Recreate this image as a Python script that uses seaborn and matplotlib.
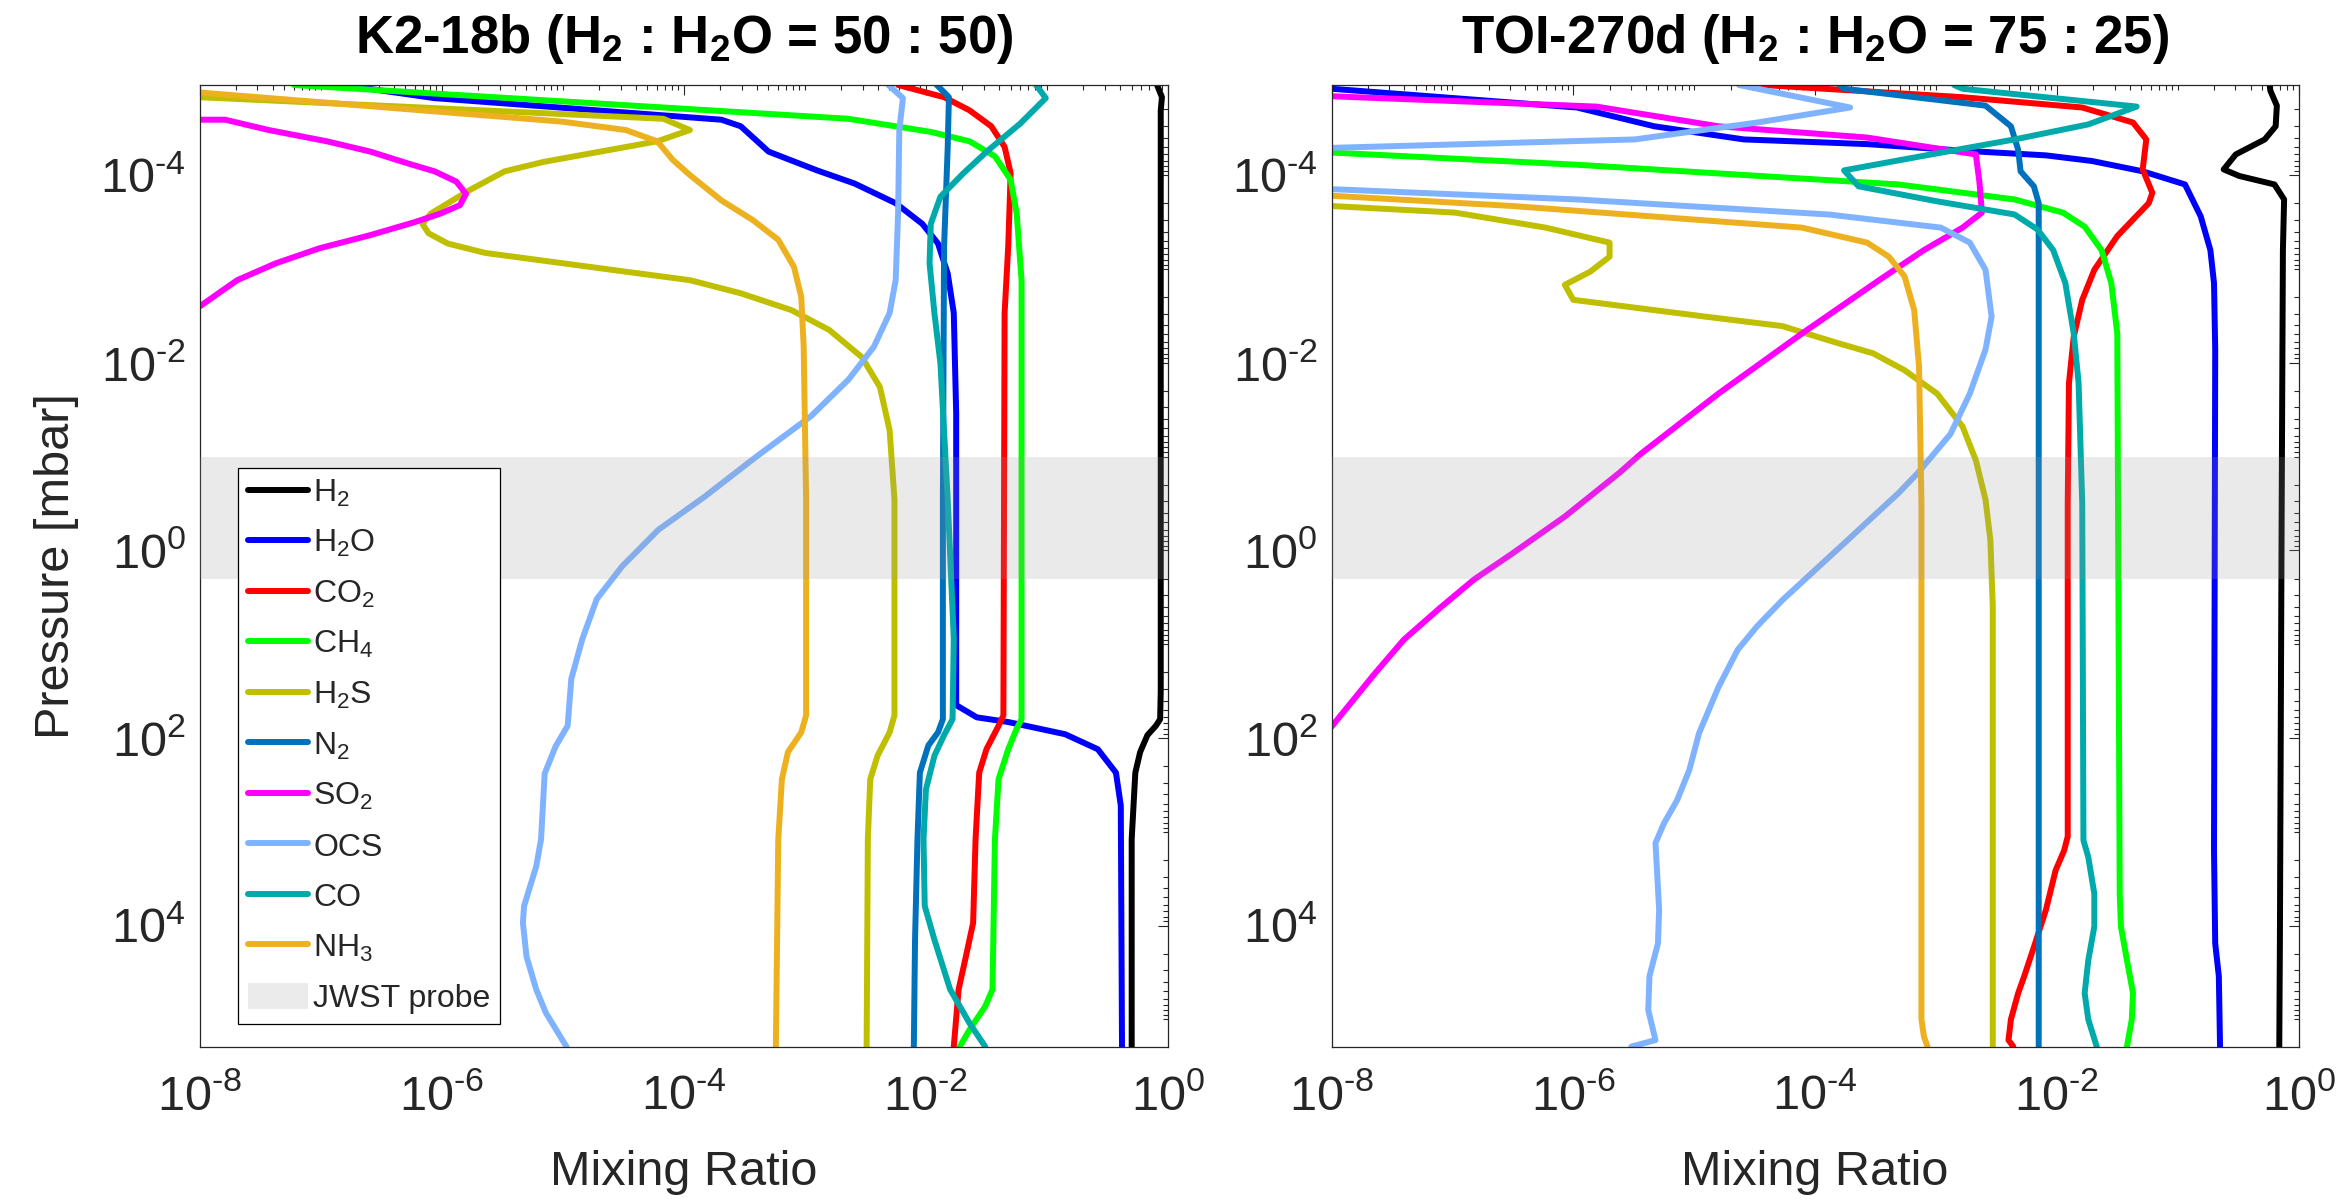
import numpy as np
import pandas as pd
import matplotlib
matplotlib.use("Agg")
import matplotlib.pyplot as plt
import seaborn as sns
from matplotlib.ticker import FixedLocator, LogLocator, FuncFormatter, NullFormatter
from matplotlib.lines import Line2D
from matplotlib.patches import Patch

# ---------------- data (log10 values) ----------------
P_TOP, P_BOT = -4.96, 5.29

# K2-18b (H2 : H2O = 50 : 50)
k2_h2_lp = [-4.96, -4.83, -4.69, -4.4, -3.0, 0.0, 1.5, 1.80, 1.87, 1.97, 2.15, 2.37, 3.08, 5.29]
k2_h2_lx = [-0.09, -0.05, -0.06, -0.06, -0.06, -0.06, -0.06, -0.065, -0.10, -0.17, -0.23, -0.27, -0.30, -0.30]
k2_h2o_lp = [-4.96, -4.82, -4.59, -4.52, -4.25, -4.05, -3.91, -3.70, -3.48, -3.27, -2.95, -2.53, -1.46, 1.65, 1.78, 1.83, 1.96, 2.12, 2.37, 2.72, 5.29]
k2_h2o_lx = [-6.82, -6.06, -3.69, -3.53, -3.30, -2.90, -2.59, -2.25, -2.03, -1.90, -1.82, -1.77, -1.75, -1.75, -1.58, -1.32, -0.85, -0.58, -0.43, -0.39, -0.38]
k2_co2_lp = [-4.96, -4.83, -4.69, -4.52, -4.30, -4.02, -3.24, -2.53, 1.76, 1.87, 2.12, 2.37, 3.08, 3.97, 4.33, 4.68, 5.29]
k2_co2_lx = [-2.23, -1.85, -1.64, -1.46, -1.35, -1.30, -1.32, -1.35, -1.36, -1.40, -1.50, -1.56, -1.59, -1.61, -1.67, -1.73, -1.77]
k2_ch4_lp = [-4.96, -4.60, -4.46, -4.36, -4.20, -3.95, -3.59, -2.88, 1.80, 1.90, 2.12, 2.44, 3.08, 4.68, 4.86, 5.11, 5.29]
k2_ch4_lx = [-7.22, -2.64, -1.96, -1.64, -1.43, -1.30, -1.25, -1.21, -1.21, -1.25, -1.32, -1.40, -1.43, -1.45, -1.51, -1.64, -1.72]
k2_h2s_lp = [-4.92, -4.83, -4.60, -4.48, -4.36, -4.14, -4.04, -3.84, -3.59, -3.48, -3.38, -3.27, -3.17, -3.06, -2.97, -2.88, -2.74, -2.56, -2.35, -2.06, -1.74, -1.28, -0.54, 1.76, 1.94, 2.19, 2.44, 3.08, 5.29]
k2_h2s_lx = [-9.0, -8.0, -4.17, -3.95, -4.22, -5.16, -5.48, -5.77, -6.09, -6.16, -6.11, -5.95, -5.64, -5.00, -4.48, -3.95, -3.53, -3.11, -2.80, -2.53, -2.38, -2.30, -2.26, -2.26, -2.30, -2.40, -2.46, -2.48, -2.49]
k2_n2_lp = [-4.96, -4.83, -4.30, -3.24, -0.54, 1.80, 1.94, 2.08, 2.37, 3.08, 4.15, 5.29]
k2_n2_lx = [-1.91, -1.81, -1.82, -1.85, -1.86, -1.86, -1.90, -1.98, -2.05, -2.07, -2.09, -2.10]
k2_so2_lp = [-4.62, -4.59, -4.59, -4.48, -4.36, -4.25, -4.12, -4.04, -3.93, -3.80, -3.68, -3.59, -3.50, -3.36, -3.22, -3.06, -2.88, -2.60, -2.30]
k2_so2_lx = [-9.0, -8.0, -7.79, -7.43, -6.95, -6.59, -6.27, -6.06, -5.88, -5.80, -5.85, -6.01, -6.22, -6.59, -7.01, -7.37, -7.69, -8.0, -8.4]
k2_ocs_lp = [-4.96, -4.82, -4.48, -3.59, -2.88, -2.53, -2.17, -1.82, -1.43, -0.99, -0.57, -0.22, 0.17, 0.52, 0.95, 1.37, 1.87, 2.09, 2.38, 3.08, 3.37, 3.79, 3.97, 4.33, 4.68, 4.93, 5.29]
k2_ocs_lx = [-2.31, -2.19, -2.22, -2.23, -2.25, -2.30, -2.43, -2.64, -2.95, -3.41, -3.83, -4.21, -4.51, -4.72, -4.84, -4.93, -4.96, -5.06, -5.15, -5.18, -5.22, -5.32, -5.33, -5.30, -5.22, -5.14, -4.97]
k2_co_lp = [-4.96, -4.82, -4.55, -4.27, -4.02, -3.77, -3.48, -3.06, -2.53, -1.99, -0.54, 0.94, 1.80, 1.97, 2.19, 2.55, 3.08, 3.79, 4.15, 4.68, 5.04, 5.29]
k2_co_lx = [-1.09, -1.01, -1.22, -1.48, -1.69, -1.88, -1.96, -1.97, -1.93, -1.88, -1.82, -1.77, -1.78, -1.85, -1.93, -2.00, -2.02, -2.01, -1.93, -1.80, -1.64, -1.51]
k2_nh3_lp = [-4.95, -4.88, -4.57, -4.48, -4.36, -4.16, -4.00, -3.73, -3.52, -3.31, -3.02, -2.70, -2.17, -0.54, 1.76, 1.94, 2.15, 2.44, 3.08, 5.29]
k2_nh3_lx = [-9.0, -8.0, -5.01, -4.48, -4.22, -4.09, -3.95, -3.69, -3.43, -3.22, -3.09, -3.03, -3.01, -2.99, -2.99, -3.03, -3.14, -3.19, -3.22, -3.24]

# TOI-270d (H2 : H2O = 75 : 25)
t_h2_lp = [-4.96, -4.90, -4.74, -4.52, -4.38, -4.22, -4.06, -3.99, -3.90, -3.74, -3.20, -0.50, 4.19, 5.29]
t_h2_lx = [-0.24, -0.234, -0.18, -0.19, -0.28, -0.52, -0.62, -0.49, -0.20, -0.12, -0.13, -0.14, -0.155, -0.16]
t_h2o_lp = [-4.96, -4.92, -4.72, -4.52, -4.38, -4.33, -4.26, -4.21, -4.15, -4.04, -3.90, -3.56, -3.20, -2.85, -2.14, 3.20, 4.19, 4.54, 5.29]
t_h2o_lx = [-8.3, -8.0, -5.97, -5.33, -4.59, -3.57, -2.78, -2.09, -1.71, -1.29, -0.94, -0.81, -0.73, -0.70, -0.69, -0.70, -0.69, -0.66, -0.65]
t_co2_lp = [-4.96, -4.83, -4.72, -4.56, -4.38, -4.06, -3.81, -3.70, -3.35, -2.99, -2.67, -2.28, -1.78, -0.50, 3.05, 3.20, 3.41, 3.83, 4.19, 4.54, 4.72, 5.00, 5.22, 5.29]
t_co2_lx = [-4.43, -2.78, -1.79, -1.37, -1.26, -1.29, -1.21, -1.24, -1.50, -1.69, -1.79, -1.86, -1.90, -1.91, -1.91, -1.94, -2.01, -2.09, -2.18, -2.27, -2.32, -2.38, -2.40, -2.36]
t_ch4_lp = [-4.28, -4.24, -4.11, -3.90, -3.74, -3.60, -3.45, -3.20, -2.85, -2.31, 3.66, 4.01, 4.37, 4.72, 5.00, 5.29]
t_ch4_lx = [-9.0, -8.0, -5.97, -3.31, -2.35, -1.95, -1.77, -1.63, -1.55, -1.50, -1.48, -1.47, -1.42, -1.37, -1.38, -1.42]
t_h2s_lp = [-3.72, -3.67, -3.60, -3.44, -3.28, -3.13, -2.97, -2.83, -2.67, -2.49, -2.39, -2.22, -2.10, -1.92, -1.67, -1.32, -0.96, -0.54, -0.11, 0.60, 5.29]
t_h2s_lx = [-9.0, -8.0, -6.98, -6.23, -5.70, -5.70, -5.86, -6.07, -6.00, -4.90, -4.27, -3.84, -3.52, -3.26, -2.99, -2.78, -2.67, -2.59, -2.55, -2.53, -2.53]
t_n2_lp = [-4.96, -4.92, -4.74, -4.52, -4.27, -4.04, -3.88, -3.70, -3.20, 5.29]
t_n2_lx = [-3.80, -3.76, -2.59, -2.38, -2.32, -2.30, -2.19, -2.15, -2.15, -2.15]
t_so2_lp = [-4.96, -4.84, -4.73, -4.52, -4.40, -4.22, -3.92, -3.60, -3.44, -3.20, -2.88, -2.31, -1.67, -1.03, -0.825, -0.36, 0.03, 0.31, 0.60, 0.95, 1.31, 1.88, 2.00]
t_so2_lx = [-8.5, -8.0, -5.81, -4.80, -3.57, -2.67, -2.64, -2.62, -2.78, -3.10, -3.47, -4.11, -4.80, -5.44, -5.62, -6.07, -6.50, -6.82, -7.09, -7.40, -7.64, -8.0, -8.1]
t_ocs_lp = [-4.96, -4.72, -4.56, -4.38, -4.29, -4.25, -3.91, -3.85, -3.74, -3.58, -3.44, -3.28, -2.99, -2.49, -2.14, -1.67, -1.24, -0.825, -0.61, -0.11, 0.21, 0.53, 0.81, 1.06, 1.31, 1.46, 1.95, 2.34, 2.66, 2.91, 3.12, 3.83, 4.19, 4.54, 4.90, 5.22, 5.29]
t_ocs_lx = [-4.63, -3.71, -4.48, -5.49, -8.0, -8.3, -8.3, -8.0, -5.97, -3.89, -2.96, -2.72, -2.59, -2.54, -2.59, -2.72, -2.88, -3.15, -3.31, -3.73, -4.00, -4.27, -4.48, -4.64, -4.74, -4.80, -4.96, -5.04, -5.14, -5.25, -5.32, -5.29, -5.30, -5.37, -5.38, -5.32, -5.52]
t_co_lp = [-4.96, -4.92, -4.73, -4.54, -4.38, -4.22, -4.05, -3.88, -3.72, -3.58, -3.42, -3.20, -2.85, -2.31, -1.78, -0.50, 3.09, 3.27, 3.66, 4.01, 4.37, 4.72, 5.00, 5.29]
t_co_lx = [-2.85, -2.78, -1.34, -1.74, -2.35, -3.04, -3.76, -3.64, -2.99, -2.35, -2.16, -2.03, -1.93, -1.86, -1.82, -1.79, -1.78, -1.74, -1.69, -1.69, -1.74, -1.77, -1.74, -1.67]
t_nh3_lp = [-3.82, -3.78, -3.67, -3.44, -3.28, -3.13, -2.92, -2.56, -1.96, -0.50, 5.00, 5.18, 5.29]
t_nh3_lx = [-9.0, -8.0, -6.5, -4.11, -3.57, -3.39, -3.26, -3.18, -3.14, -3.12, -3.12, -3.10, -3.07]

species = ["H2", "H2O", "CO2", "CH4", "H2S", "N2", "SO2", "OCS", "CO", "NH3"]
labels = ["H$_2$", "H$_2$O", "CO$_2$", "CH$_4$", "H$_2$S", "N$_2$", "SO$_2$", "OCS", "CO", "NH$_3$"]
colors = ["#000000", "#0000FF", "#FF0000", "#00FF00", "#BFBF00", "#0072BD",
          "#FF00FF", "#80B3FF", "#00AAAA", "#EDB120"]

k2_data = [(k2_h2_lp, k2_h2_lx), (k2_h2o_lp, k2_h2o_lx), (k2_co2_lp, k2_co2_lx),
           (k2_ch4_lp, k2_ch4_lx), (k2_h2s_lp, k2_h2s_lx), (k2_n2_lp, k2_n2_lx),
           (k2_so2_lp, k2_so2_lx), (k2_ocs_lp, k2_ocs_lx), (k2_co_lp, k2_co_lx),
           (k2_nh3_lp, k2_nh3_lx)]
toi_data = [(t_h2_lp, t_h2_lx), (t_h2o_lp, t_h2o_lx), (t_co2_lp, t_co2_lx),
            (t_ch4_lp, t_ch4_lx), (t_h2s_lp, t_h2s_lx), (t_n2_lp, t_n2_lx),
            (t_so2_lp, t_so2_lx), (t_ocs_lp, t_ocs_lx), (t_co_lp, t_co_lx),
            (t_nh3_lp, t_nh3_lx)]

titles = [r"K2-18b (H$_\mathbf{2}$ : H$_\mathbf{2}$O = 50 : 50)",
          r"TOI-270d (H$_\mathbf{2}$ : H$_\mathbf{2}$O = 75 : 25)"]
band_lo, band_hi = 0.1, 2.0

# ---------------- style ----------------
sns.set_style("white")
plt.rcParams.update({
    "mathtext.fontset": "custom",
    "mathtext.rm": "Liberation Sans",
    "mathtext.it": "Liberation Sans:italic",
    "mathtext.bf": "Liberation Sans:bold",
    "axes.unicode_minus": False,
    "axes.edgecolor": "#262626",
    "axes.linewidth": 0.9,
})
plt.rcParams["font.family"] = ["Liberation Sans", "DejaVu Sans"]

TXT = "#262626"
LW = 4.3

fig = plt.figure(figsize=(23.36, 12.04), dpi=100)
axes = [fig.add_axes([0.0855, 0.1307, 0.4145, 0.7987]),
        fig.add_axes([0.5700, 0.1307, 0.4140, 0.7987])]


def fmt(v, pos):
    e = int(round(np.log10(v)))
    if e < 0:
        return r"$\mathdefault{10^{\text{-}%d}}$" % (-e)
    return r"$\mathdefault{10^{%d}}$" % e


for ax, data, title in zip(axes, [k2_data, toi_data], titles):
    ax.set_xscale("log")
    ax.set_yscale("log")
    for (lp, lx), c in zip(data, colors):
        df = pd.DataFrame({"x": 10.0 ** np.array(lx), "p": 10.0 ** np.array(lp)})
        sns.lineplot(data=df, x="x", y="p", sort=False, estimator=None,
                     color=c, lw=LW, ax=ax, legend=False)
    ax.axhspan(band_lo, band_hi, color=(0.6, 0.6, 0.6), alpha=0.2, lw=0, zorder=5)
    ax.set_xlim(1e-8, 1.0)
    ax.set_ylim(10 ** P_BOT, 10 ** P_TOP)
    ax.xaxis.set_major_locator(FixedLocator([1e-8, 1e-6, 1e-4, 1e-2, 1.0]))
    ax.yaxis.set_major_locator(FixedLocator([1e-4, 1e-2, 1.0, 1e2, 1e4]))
    ax.xaxis.set_minor_locator(LogLocator(base=10, subs=np.arange(1, 10), numticks=100))
    ax.yaxis.set_minor_locator(LogLocator(base=10, subs=np.arange(1, 10), numticks=100))
    ax.xaxis.set_major_formatter(FuncFormatter(fmt))
    ax.yaxis.set_major_formatter(FuncFormatter(fmt))
    ax.xaxis.set_minor_formatter(NullFormatter())
    ax.yaxis.set_minor_formatter(NullFormatter())
    ax.tick_params(which="both", direction="in", top=True, right=True,
                   colors="#262626", width=0.8)
    ax.tick_params(which="major", length=7)
    ax.tick_params(which="minor", length=3.5)
    ax.tick_params(axis="x", which="major", labelsize=35, pad=20, labelcolor=TXT)
    ax.tick_params(axis="y", which="major", labelsize=35, pad=10, labelcolor=TXT)
    ax.set_xlabel("")
    ax.set_ylabel("")
    for s in ax.spines.values():
        s.set_visible(True)
        s.set_color("#262626")
    ax.text(0.5, -0.1438, "Mixing Ratio", transform=ax.transAxes, ha="center",
            va="baseline", fontsize=35, color=TXT)
    ax.text(0.5, 1.033, title, transform=ax.transAxes, ha="center",
            va="baseline", fontsize=38, fontweight="bold", color="black")

fig.text(57 / 2336, 1 - 566 / 1204, "Pressure [mbar]", rotation=90,
         ha="center", va="center", fontsize=35, color=TXT)

handles = [Line2D([0], [0], color=c, lw=LW) for c in colors]
handles.append(Patch(facecolor="#EBEBEB", edgecolor="none"))
leg = axes[0].legend(handles, labels + ["JWST probe"], loc="lower left",
                     bbox_to_anchor=(0.0396, 0.024), borderaxespad=0,
                     fontsize=23, frameon=True, fancybox=False,
                     edgecolor="black", framealpha=1, handlelength=1.9,
                     handleheight=0.9, handletextpad=0.15, labelspacing=0.6,
                     borderpad=0.3)
leg.get_frame().set_linewidth(0.9)
leg.set_zorder(10)

fig.savefig("out.png", dpi=100)
